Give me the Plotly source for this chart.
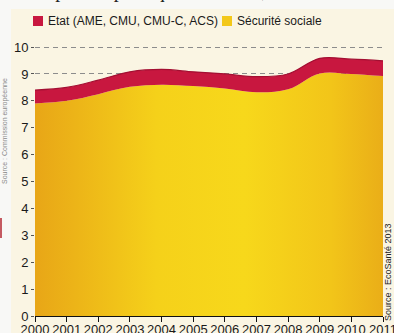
import plotly.graph_objects as go

years = list(range(2000, 2012))
secu = [7.90, 8.00, 8.25, 8.52, 8.60, 8.55, 8.46, 8.32, 8.43, 9.02, 9.00, 8.92]
etat = [0.50, 0.50, 0.52, 0.56, 0.57, 0.53, 0.54, 0.58, 0.57, 0.56, 0.55, 0.57]
y_ticks = list(range(0, 11))
legend_names = ["Etat (AME, CMU, CMU-C, ACS)", "Sécurité sociale"]

FONT = "Liberation Sans, Arial, sans-serif"
RED = "#C8173F"
YEL = "#F3C81A"

W, H = 394, 333
L, R, T, B = 35, 11, 39, 17
YMAX = 10.3
pw, ph = W - L - R, H - T - B
def px(x):
    return (x - L) / pw
def py(y):
    return (H - B - y) / ph

fig = go.Figure()

fig.add_trace(go.Scatter(
    x=years, y=secu, stackgroup="s", mode="lines", line_shape="spline",
    name=legend_names[1],
    line=dict(width=0, color="#EDB418"),
    fillgradient=dict(type="horizontal", colorscale=[
        [0, "#E8A617"], [0.35, "#F5D11A"], [0.6, "#F7D81B"], [0.85, "#F2C519"], [1, "#EAAE18"]]),
    showlegend=False, hoverinfo="skip"))
fig.add_trace(go.Scatter(
    x=years, y=etat, stackgroup="s", mode="lines", line_shape="spline",
    name=legend_names[0],
    line=dict(width=1.2, color="#A30F32"), fillcolor=RED,
    showlegend=False, hoverinfo="skip"))

shapes = [
    dict(type="rect", xref="paper", yref="paper", layer="below",
         x0=px(11), x1=px(W + 2), y0=py(H + 2), y1=py(9),
         fillcolor="#FAF5E3", line=dict(width=0)),
    dict(type="rect", xref="paper", yref="paper", layer="below",
         x0=px(-1), x1=px(2), y0=py(238), y1=py(218),
         fillcolor="#C45A62", line=dict(width=0)),
    # legend swatches
    dict(type="rect", xref="paper", yref="paper",
         x0=px(33), x1=px(43), y0=py(26), y1=py(16),
         fillcolor=RED, line=dict(width=0)),
    dict(type="rect", xref="paper", yref="paper",
         x0=px(222), x1=px(232), y0=py(26), y1=py(16),
         fillcolor=YEL, line=dict(width=0)),
]

annotations = [
    dict(text="Dépenses publiques de santé, en % du", xref="paper", yref="paper",
         x=px(31), y=py(3), xanchor="left", yanchor="bottom", showarrow=False,
         borderpad=0, font=dict(family="Liberation Serif, Times New Roman, serif", size=20, color="#222")),
    dict(text=legend_names[0], xref="paper", yref="paper",
         x=px(47), y=py(21), xanchor="left", yanchor="middle", showarrow=False,
         borderpad=0, font=dict(family=FONT, size=12, color="#1a1a1a")),
    dict(text=legend_names[1], xref="paper", yref="paper",
         x=px(236), y=py(21), xanchor="left", yanchor="middle", showarrow=False,
         borderpad=0, font=dict(family=FONT, size=12, color="#1a1a1a")),
    dict(text="Source : Commission européenne", xref="paper", yref="paper",
         x=px(5), y=py(131), xanchor="center", yanchor="middle", textangle=-90, showarrow=False,
         font=dict(family=FONT, size=7, color="#8a8a8a")),
    dict(text="Source : EcoSanté 2013", xref="paper", yref="paper",
         x=px(388), y=py(272), xanchor="center", yanchor="middle", textangle=-90, showarrow=False,
         font=dict(family=FONT, size=9, color="#222")),
]

fig.update_layout(
    width=W, height=H, margin=dict(l=L, r=R, t=T, b=B),
    paper_bgcolor="#F8F8F6", plot_bgcolor="rgba(0,0,0,0)",
    font=dict(family=FONT, size=13, color="#1a1a1a"),
    showlegend=False,
    shapes=shapes, annotations=annotations,
    xaxis=dict(range=[2000, 2011], tickmode="array", tickvals=years,
               ticktext=[str(y) for y in years], showgrid=False, zeroline=False,
               showline=True, linecolor="#111", linewidth=1, tickangle=0,
               ticks="outside", ticklen=5, tickcolor="#111", tickwidth=1,
               tickfont=dict(size=13), automargin=False, ticklabeloverflow="allow",
               ticklabelstandoff=-4),
    yaxis=dict(range=[0, YMAX], tickmode="array", tickvals=y_ticks,
               showgrid=True, gridcolor="#8c8c8c", gridwidth=1, griddash="5px,4px",
               zeroline=False, showline=False,
               ticks="outside", ticklen=3, tickcolor="#555", tickwidth=1,
               tickfont=dict(size=13), automargin=False),
)

fig.write_html("out.html")
